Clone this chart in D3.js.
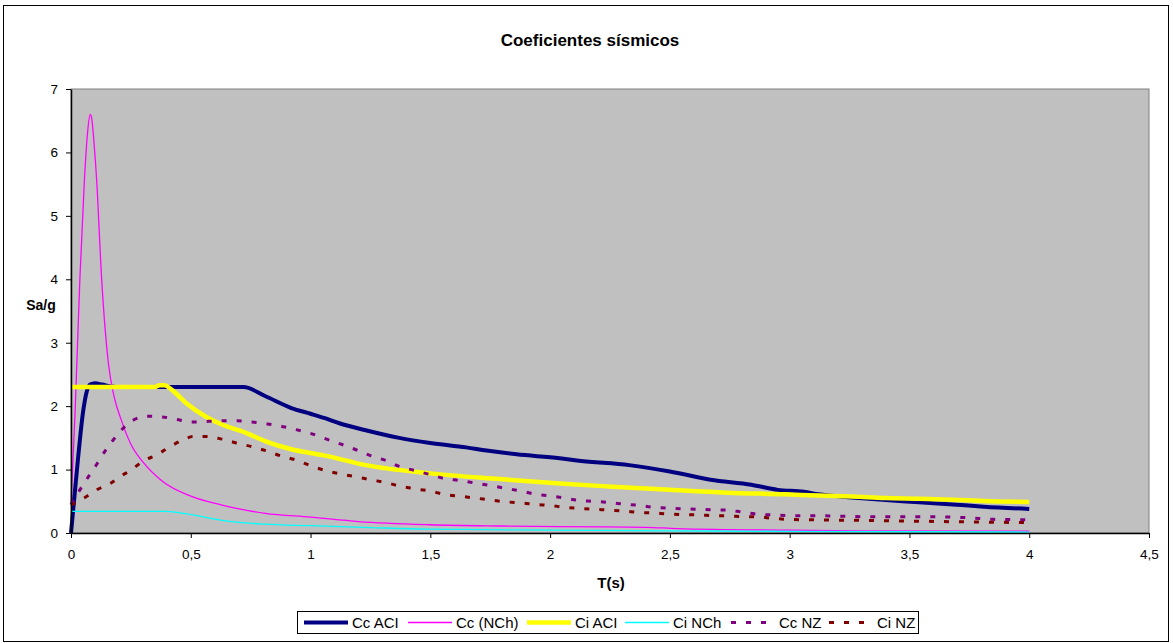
<!DOCTYPE html>
<html>
<head>
<meta charset="utf-8">
<script src="https://cdn.jsdelivr.net/npm/d3@7"></script>
<style>
  html, body { margin: 0; padding: 0; background: #ffffff; }
  svg { display: block; font-family: "Liberation Sans", Arial, sans-serif; }
</style>
</head>
<body>
<svg id="chart" width="1173" height="643"></svg>
<script>
// Spectral coefficients Sa/g versus period T(s), as [T, Sa/g] pairs
const ccACI = [[0,0],[0.01,0.4],[0.03,1.2],[0.05,1.9],[0.065,2.22],[0.08,2.34],[0.1,2.36],[0.13,2.34],[0.17,2.31],[0.2,2.3],
  [0.72,2.3],[0.81,2.16],[0.92,1.97],[1.0,1.88],[1.06,1.81],[1.12,1.73],[1.23,1.62],[1.37,1.5],[1.5,1.42],[1.65,1.35],
  [1.735,1.3],[1.86,1.24],[2.04,1.18],[2.12,1.14],[2.33,1.07],[2.5,0.97],[2.67,0.84],[2.84,0.76],[2.95,0.68],[3.06,0.65],
  [3.12,0.61],[3.26,0.56],[3.4,0.52],[3.54,0.485],[3.68,0.45],[3.81,0.415],[4.0,0.38]];

const ccNCh = [[0,0.45],[0.017,1.9],[0.037,4.0],[0.056,5.57],[0.07,6.35],[0.08,6.6],[0.086,6.55],[0.095,6.2],[0.107,5.57],
  [0.128,4.0],[0.156,2.68],[0.18,2.15],[0.21,1.78],[0.25,1.4],[0.3,1.12],[0.38,0.82],[0.5,0.58],[0.63,0.44],[0.81,0.31],
  [1.0,0.25],[1.2,0.18],[1.5,0.13],[1.8,0.11],[2.04,0.1],[2.4,0.09],[2.53,0.07],[3.0,0.045],[3.3,0.035],[4.0,0.03]];

const ciACI = [[0,2.3],[0.35,2.3],[0.37,2.33],[0.39,2.33],[0.42,2.26],[0.48,2.05],[0.56,1.84],[0.63,1.71],[0.73,1.58],
  [0.81,1.45],[0.92,1.32],[1.0,1.26],[1.06,1.22],[1.23,1.07],[1.5,0.94],[1.79,0.85],[2.04,0.78],[2.26,0.73],[2.5,0.68],
  [2.74,0.635],[2.98,0.61],[3.12,0.59],[3.26,0.575],[3.4,0.55],[3.54,0.54],[3.68,0.525],[3.81,0.505],[4.0,0.49]];

const ciNCh = [[0,0.34],[0.39,0.34],[0.45,0.32],[0.53,0.27],[0.6,0.22],[0.67,0.18],[0.81,0.14],[1.0,0.115],[1.25,0.085],
  [1.5,0.06],[2.0,0.045],[2.5,0.035],[3.0,0.025],[3.5,0.02],[4.0,0.015]];

const ccNZ = [[0,0.45],[0.037,0.68],[0.073,0.89],[0.107,1.08],[0.142,1.29],[0.177,1.47],[0.22,1.66],[0.26,1.78],[0.317,1.84],
  [0.38,1.83],[0.44,1.79],[0.505,1.75],[0.575,1.76],[0.63,1.77],[0.69,1.77],[0.756,1.75],[0.82,1.72],[0.88,1.68],[0.94,1.63],
  [1.0,1.57],[1.067,1.48],[1.12,1.41],[1.185,1.32],[1.25,1.22],[1.32,1.135],[1.37,1.05],[1.43,0.99],[1.5,0.92],[1.57,0.85],
  [1.62,0.83],[1.69,0.785],[1.75,0.75],[1.82,0.7],[1.88,0.66],[1.94,0.61],[2.0,0.585],[2.06,0.55],[2.12,0.515],[2.18,0.5],
  [2.25,0.48],[2.31,0.455],[2.37,0.435],[2.43,0.405],[2.5,0.39],[2.56,0.38],[2.62,0.375],[2.68,0.365],[2.74,0.36],[2.8,0.33],
  [2.87,0.295],[2.93,0.285],[3.0,0.275],[3.15,0.27],[3.3,0.258],[3.6,0.255],[3.75,0.24],[3.85,0.215],[4.0,0.21]];

const ciNZ = [[0,0.44],[0.058,0.56],[0.107,0.68],[0.163,0.78],[0.21,0.9],[0.253,1.0],[0.3,1.13],[0.357,1.23],[0.413,1.36],
  [0.469,1.47],[0.51,1.52],[0.57,1.52],[0.63,1.48],[0.69,1.42],[0.756,1.36],[0.82,1.29],[0.88,1.21],[0.94,1.15],[1.0,1.06],
  [1.067,0.98],[1.125,0.93],[1.185,0.89],[1.25,0.84],[1.32,0.79],[1.37,0.74],[1.43,0.7],[1.5,0.66],[1.57,0.6],[1.62,0.58],
  [1.69,0.55],[1.75,0.52],[1.82,0.49],[1.88,0.475],[1.94,0.45],[2.0,0.435],[2.06,0.405],[2.12,0.39],[2.18,0.375],[2.25,0.36],
  [2.31,0.345],[2.37,0.325],[2.43,0.315],[2.5,0.3],[2.56,0.29],[2.62,0.285],[2.68,0.275],[2.74,0.27],[2.8,0.26],[2.87,0.255],
  [2.93,0.23],[3.0,0.215],[3.15,0.205],[3.3,0.2],[3.55,0.185],[3.75,0.175],[4.0,0.163]];

const seriesNames = ["Cc ACI", "Cc (NCh)", "Ci ACI", "Ci NCh", "Cc NZ", "Ci NZ"];
const xTicks = [0, 0.5, 1, 1.5, 2, 2.5, 3, 3.5, 4, 4.5];
const yTicks = [0, 1, 2, 3, 4, 5, 6, 7];

const styles = [
  { color: "#000080", width: 4, dash: null },
  { color: "#FF00FF", width: 1.3, dash: null },
  { color: "#FFFF00", width: 4.5, dash: null },
  { color: "#00FFFF", width: 1.3, dash: null },
  { color: "#800080", width: 3, dash: "5,10" },
  { color: "#800000", width: 3, dash: "5,10" }
];
const seriesData = [ccACI, ccNCh, ciACI, ciNCh, ccNZ, ciNZ];

const svg = d3.select("#chart");

// chart area frame
svg.append("rect").attr("x", 3.5).attr("y", 5.5).attr("width", 1165).attr("height", 636)
  .attr("fill", "#ffffff").attr("stroke", "#000000").attr("stroke-width", 1);

const x = d3.scaleLinear().domain([0, 4.5]).range([71, 1149]);
const y = d3.scaleLinear().domain([0, 7]).range([533, 89]);

// plot area
svg.append("rect").attr("x", x(0)).attr("y", y(7)).attr("width", x(4.5) - x(0)).attr("height", y(0) - y(7))
  .attr("fill", "#C0C0C0").attr("stroke", "#808080").attr("stroke-width", 1);

// title
svg.append("text").attr("x", 590).attr("y", 46).attr("text-anchor", "middle")
  .attr("font-size", 17).attr("font-weight", "bold").text("Coeficientes sísmicos");

// series
const line = d3.line().x(d => x(d[0])).y(d => y(d[1])).curve(d3.curveMonotoneX);
seriesData.forEach((data, i) => {
  const s = styles[i];
  const p = svg.append("path").datum(data).attr("d", line).attr("fill", "none")
    .attr("stroke", s.color).attr("stroke-width", s.width).attr("stroke-linejoin", "round");
  if (s.dash) p.attr("stroke-dasharray", s.dash);
});

// axes
const fmt = d => String(d).replace(".", ",");
const xAxis = svg.append("g").attr("transform", `translate(0,${y(0)})`)
  .call(d3.axisBottom(x).tickValues(xTicks).tickFormat(fmt).tickSize(5).tickSizeOuter(0).tickPadding(11));
const yAxis = svg.append("g").attr("transform", `translate(${x(0)},0)`)
  .call(d3.axisLeft(y).tickValues(yTicks).tickFormat(fmt).tickSize(5).tickSizeOuter(0).tickPadding(8));
[xAxis, yAxis].forEach(g => {
  g.selectAll("text").attr("font-size", 13.5).attr("font-family", "Liberation Sans, Arial, sans-serif").attr("fill", "#000");
  g.selectAll("line").attr("stroke", "#000");
  g.select(".domain").attr("stroke", "#000").attr("stroke-width", 1.5);
});

// axis titles
svg.append("text").attr("x", 611).attr("y", 588).attr("text-anchor", "middle")
  .attr("font-size", 15).attr("font-weight", "bold").text("T(s)");
svg.append("text").attr("x", 41).attr("y", 310).attr("text-anchor", "middle")
  .attr("font-size", 14).attr("font-weight", "bold").text("Sa/g");

// legend
const legend = svg.append("g");
legend.append("rect").attr("x", 297.5).attr("y", 611.5).attr("width", 621).attr("height", 22)
  .attr("fill", "#ffffff").attr("stroke", "#000000").attr("stroke-width", 1);
const legendX = [304, 408, 527, 625, 731, 829];
seriesNames.forEach((name, i) => {
  const s = styles[i];
  const g = legend.append("g").attr("transform", `translate(${legendX[i]},622.5)`);
  const l = g.append("line").attr("x1", 0).attr("x2", 44).attr("y1", 0).attr("y2", 0)
    .attr("stroke", s.color).attr("stroke-width", s.width);
  if (s.dash) l.attr("stroke-dasharray", s.dash);
  g.append("text").attr("x", 48).attr("y", 5.5).attr("font-size", 15).text(name);
});
</script>
</body>
</html>
